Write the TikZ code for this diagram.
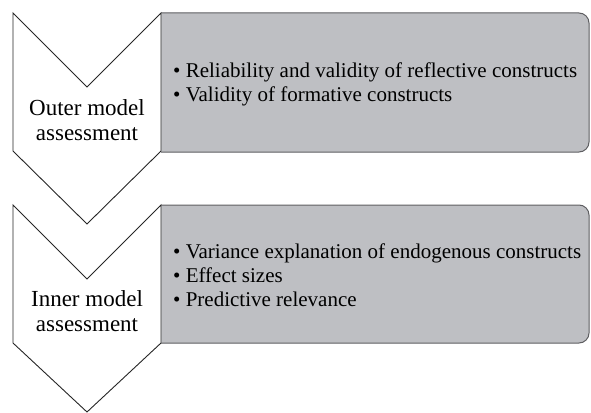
\documentclass[tikz,border=0pt]{standalone}
\usepackage{fontspec}
\setmainfont{Liberation Serif}
\definecolor{boxgray}{RGB}{190,191,195}
\definecolor{edgegray}{RGB}{95,95,98}
\tikzset{
  chevron/.style={draw=black!85, fill=white, line width=0.9pt, line join=miter},
  listbox/.style={draw=edgegray, fill=boxgray, line width=1pt},
  steplabel/.style={align=center, inner sep=0pt, font=\fontsize{23}{25}\selectfont},
  itemlist/.style={align=left, anchor=west, inner sep=0pt, font=\fontsize{21}{24}\selectfont},
}
\begin{document}
\begin{tikzpicture}[x=1pt,y=-1pt]
\useasboundingbox (0,0) rectangle (591,412);
% outer model assessment
\draw[listbox,rounded corners=10pt] (161,13) -- (589,13) -- (589,152) -- (161,152);
\draw[chevron] (13,13) -- (87,87) -- (161,13) -- (161,151) -- (87,224) -- (13,151) -- cycle;
\node[steplabel] (outer) at (87,120) {Outer model\\assessment};
\node[itemlist] (outerlist) at (173,84) {\textbullet\ Reliability and validity of reflective constructs\\
  \textbullet\ Validity of formative constructs};
% inner model assessment
\draw[listbox,rounded corners=10pt] (161,205) -- (589,205) -- (589,343) -- (161,343);
\draw[chevron] (13,205) -- (87,279) -- (161,205) -- (161,343) -- (87,412) -- (13,343) -- cycle;
\node[steplabel] (inner) at (87,311) {Inner model\\assessment};
\node[itemlist] (innerlist) at (173,275) {\textbullet\ Variance explanation of endogenous constructs\\
  \textbullet\ Effect sizes\\
  \textbullet\ Predictive relevance};
\end{tikzpicture}
\end{document}
